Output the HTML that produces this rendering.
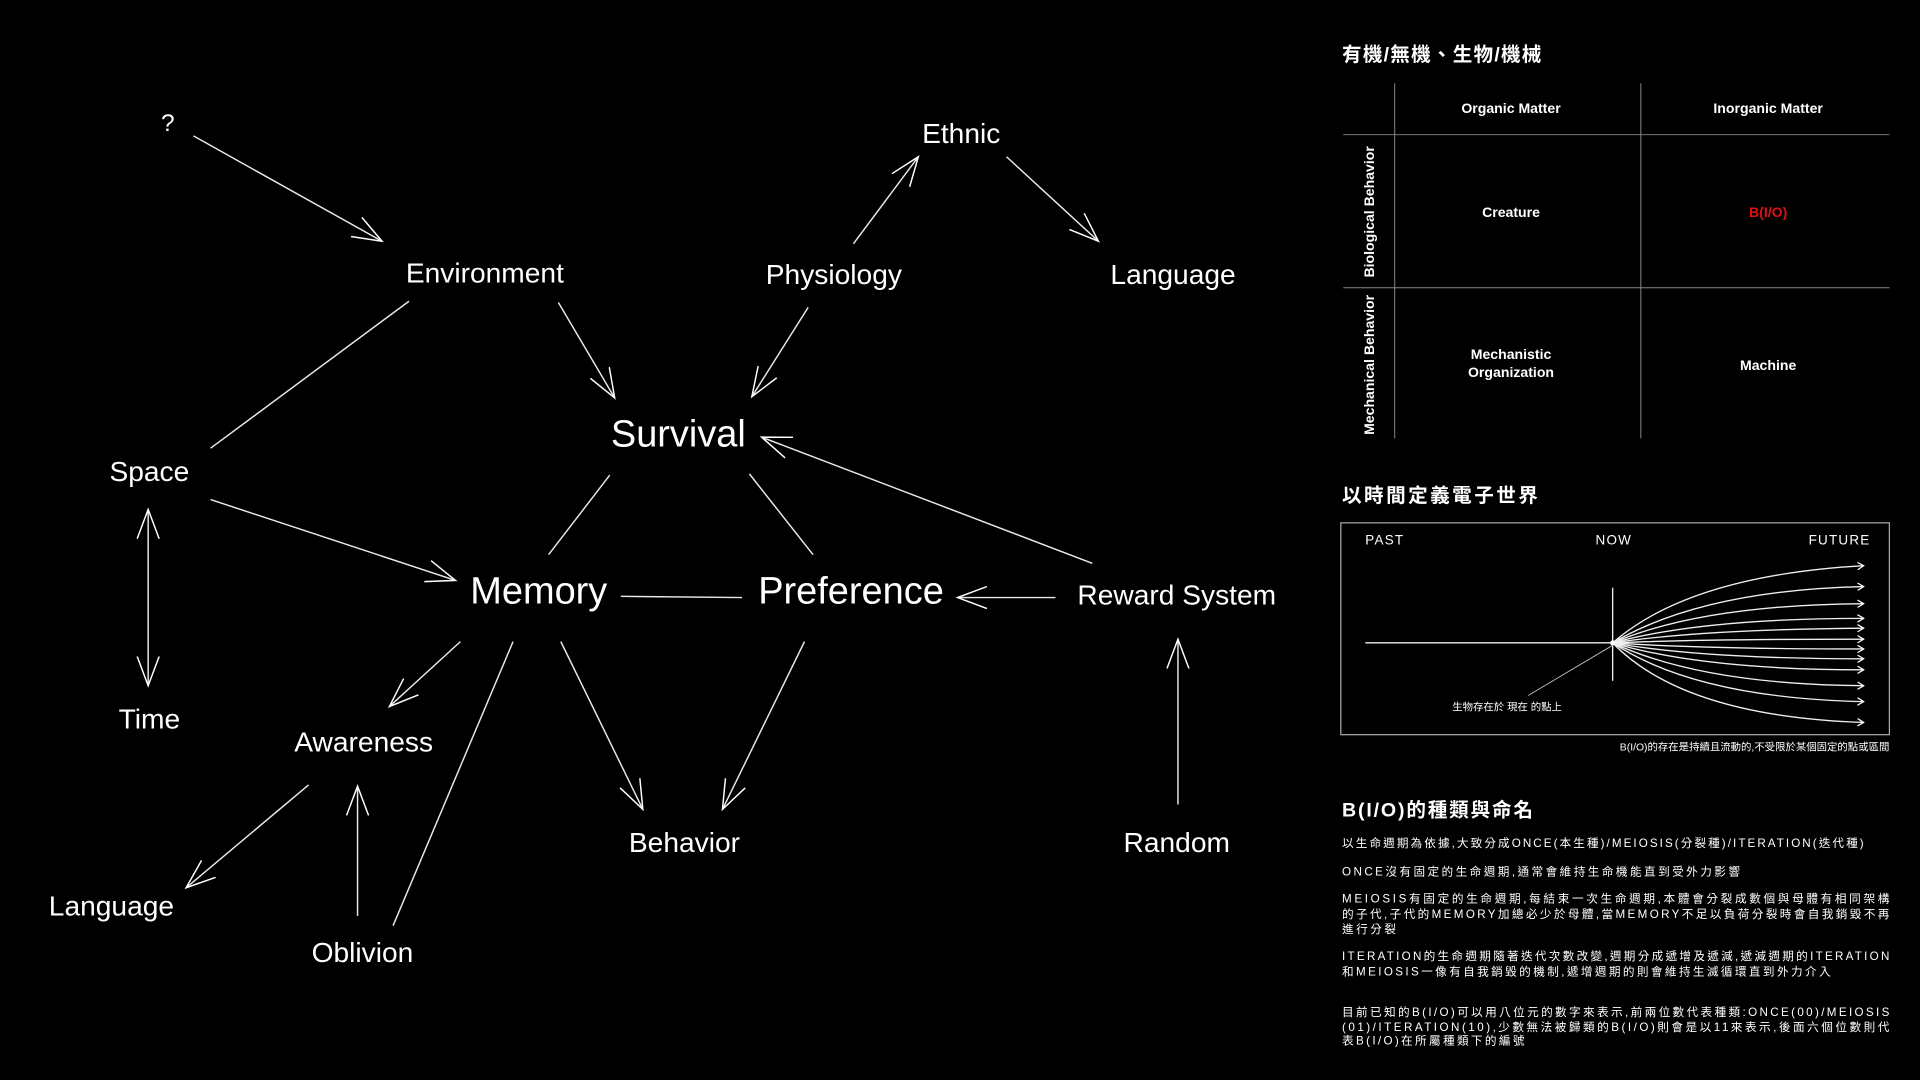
<!DOCTYPE html>
<html><head><meta charset="utf-8"><style>
html,body{margin:0;padding:0;background:#000;width:1920px;height:1080px;overflow:hidden}
svg{display:block}
.l{font-family:"Liberation Sans","Noto Sans CJK TC",sans-serif;fill:#fff;text-anchor:middle;dominant-baseline:central}
.c{font-family:"Liberation Sans","Noto Sans CJK TC",sans-serif;fill:#fff;dominant-baseline:central}
</style></head><body>
<svg width="1920" height="1080" viewBox="0 0 1568 882" xmlns="http://www.w3.org/2000/svg">
<defs>
<marker id="a" markerUnits="userSpaceOnUse" markerWidth="40" markerHeight="40" refX="24" refY="12" orient="auto-start-reverse" viewBox="0 0 40 40">
<path d="M0,3 L24,12 L0,21" fill="none" stroke="#fff" stroke-width="1.2"/>
</marker>
<marker id="s" markerUnits="userSpaceOnUse" markerWidth="10" markerHeight="10" refX="6" refY="4" orient="auto" viewBox="0 0 10 10">
<path d="M1,1 L6,4 L1,7" fill="none" stroke="#fff" stroke-width="1"/>
</marker>
</defs>
<g stroke="#e8e8e8" stroke-width="1.2" fill="none">
<line x1="158" y1="111" x2="312" y2="197" marker-end="url(#a)"/>
<line x1="456" y1="247" x2="502" y2="325" marker-end="url(#a)"/>
<line x1="334" y1="246" x2="172" y2="366"/>
<line x1="697" y1="199" x2="750" y2="128" marker-end="url(#a)"/>
<line x1="822" y1="128" x2="897" y2="197" marker-end="url(#a)"/>
<line x1="660" y1="251" x2="614" y2="324" marker-end="url(#a)"/>
<line x1="892" y1="460" x2="622" y2="357" marker-end="url(#a)"/>
<line x1="498" y1="388" x2="448" y2="453"/>
<line x1="612" y1="387" x2="664" y2="453"/>
<line x1="172" y1="408" x2="372" y2="474" marker-end="url(#a)"/>
<line x1="121" y1="416" x2="121" y2="560" marker-start="url(#a)" marker-end="url(#a)"/>
<line x1="507" y1="487" x2="606" y2="488"/>
<line x1="862" y1="488" x2="782" y2="488" marker-end="url(#a)"/>
<line x1="376" y1="524" x2="318" y2="577" marker-end="url(#a)"/>
<line x1="458" y1="524" x2="525" y2="661" marker-end="url(#a)"/>
<line x1="419" y1="524" x2="321" y2="756"/>
<line x1="657" y1="524" x2="590" y2="661" marker-end="url(#a)"/>
<line x1="962" y1="657" x2="962" y2="522" marker-end="url(#a)"/>
<line x1="252" y1="641" x2="152" y2="725" marker-end="url(#a)"/>
<line x1="292" y1="748" x2="292" y2="642" marker-end="url(#a)"/>
</g>
<g class="l" font-size="23">
<text x="137" y="101" font-size="20">?</text>
<text x="396" y="223">Environment</text>
<text x="785" y="109">Ethnic</text>
<text x="681" y="224">Physiology</text>
<text x="958" y="224">Language</text>
<text x="554" y="355" font-size="31">Survival</text>
<text x="122" y="385">Space</text>
<text x="440" y="483" font-size="31">Memory</text>
<text x="695" y="483" font-size="31">Preference</text>
<text x="961" y="486">Reward System</text>
<text x="122" y="587">Time</text>
<text x="297" y="606">Awareness</text>
<text x="559" y="688">Behavior</text>
<text x="961" y="688">Random</text>
<text x="91" y="740">Language</text>
<text x="296" y="778">Oblivion</text>
</g>
<!-- right panel -->
<text class="c" x="1096" y="45" font-size="16" font-weight="bold" letter-spacing="1">有機/無機、生物/機械</text>
<g stroke="#888" stroke-width="0.8">
<line x1="1139" y1="68" x2="1139" y2="358"/>
<line x1="1340" y1="68" x2="1340" y2="358"/>
<line x1="1097" y1="110" x2="1543" y2="110"/>
<line x1="1097" y1="235" x2="1543" y2="235"/>
</g>
<g class="l" font-size="11.5" font-weight="bold">
<text x="1234" y="88">Organic Matter</text>
<text x="1444" y="88">Inorganic Matter</text>
<text x="1234" y="173">Creature</text>
<text x="1444" y="173" style="fill:#e01010">B(I/O)</text>
<text x="1234" y="289">Mechanistic</text>
<text x="1234" y="304">Organization</text>
<text x="1444" y="298">Machine</text>
<text transform="translate(1118,173) rotate(-90)">Biological Behavior</text>
<text transform="translate(1118,298) rotate(-90)">Mechanical Behavior</text>
</g>
<text class="c" x="1096" y="405" font-size="16" font-weight="bold" letter-spacing="2">以時間定義電子世界</text>
<rect x="1095" y="427" width="448" height="173" fill="none" stroke="#aaa" stroke-width="1"/>
<g class="c" font-size="11" letter-spacing="1">
<text x="1115" y="441">PAST</text>
<text x="1303" y="441">NOW</text>
<text x="1477" y="441">FUTURE</text>
</g>
<g stroke="#eee" stroke-width="1.1" fill="none">
<line x1="1115" y1="525" x2="1317" y2="525"/>
<line x1="1317" y1="480" x2="1317" y2="556"/>
<line x1="1248" y1="568" x2="1317" y2="527" stroke="#bbb" stroke-width="0.8"/>
<g marker-end="url(#s)">
<path d="M1317,525 Q1380,470 1522,462"/>
<path d="M1317,525 Q1390,482 1522,479"/>
<path d="M1317,525 Q1390,494 1522,493"/>
<path d="M1317,525 Q1390,505 1522,505"/>
<path d="M1317,525 Q1390,514 1522,513"/>
<path d="M1317,525 Q1390,522 1522,522"/>
<path d="M1317,525 Q1390,530 1522,530"/>
<path d="M1317,525 Q1390,538 1522,538"/>
<path d="M1317,525 Q1390,547 1522,547"/>
<path d="M1317,525 Q1390,559 1522,560"/>
<path d="M1317,525 Q1385,570 1522,573"/>
<path d="M1317,525 Q1375,585 1522,590"/>
</g>
</g>
<circle cx="1317" cy="525" r="2" fill="#fff"/>
<text class="c" x="1186" y="578" font-size="8.5">生物存在於 現在 的點上</text>
<text class="c" x="1543" y="611" font-size="8.5" text-anchor="end" style="text-anchor:end">B(I/O)的存在是持續且流動的,不受限於某個固定的點或區間</text>
<text class="c" x="1096" y="662" font-size="16" font-weight="bold" letter-spacing="1.5">B(I/O)的種類與命名</text>
<g class="c" font-size="9.5">
<text x="1096" y="689" textLength="426" lengthAdjust="spacing">以生命週期為依據,大致分成ONCE(本生種)/MEIOSIS(分裂種)/ITERATION(迭代種)</text>
<text x="1096" y="712" textLength="325" lengthAdjust="spacing">ONCE沒有固定的生命週期,通常會維持生命機能直到受外力影響</text>
<text x="1096" y="734" textLength="447" lengthAdjust="spacing">MEIOSIS有固定的生命週期,每結束一次生命週期,本體會分裂成數個與母體有相同架構</text>
<text x="1096" y="747" textLength="447" lengthAdjust="spacing">的子代,子代的MEMORY加總必少於母體,當MEMORY不足以負荷分裂時會自我銷毀不再</text>
<text x="1096" y="759" textLength="44" lengthAdjust="spacing">進行分裂</text>
<text x="1096" y="781" textLength="447" lengthAdjust="spacing">ITERATION的生命週期隨著迭代次數改變,週期分成遞增及遞減,遞減週期的ITERATION</text>
<text x="1096" y="794" textLength="399" lengthAdjust="spacing">和MEIOSIS一像有自我銷毀的機制,遞增週期的則會維持生滅循環直到外力介入</text>
<text x="1096" y="827" textLength="447" lengthAdjust="spacing">目前已知的B(I/O)可以用八位元的數字來表示,前兩位數代表種類:ONCE(00)/MEIOSIS</text>
<text x="1096" y="839" textLength="447" lengthAdjust="spacing">(01)/ITERATION(10),少數無法被歸類的B(I/O)則會是以11來表示,後面六個位數則代</text>
<text x="1096" y="850" textLength="149" lengthAdjust="spacing">表B(I/O)在所屬種類下的編號</text>
</g>
</svg>
</body></html>
